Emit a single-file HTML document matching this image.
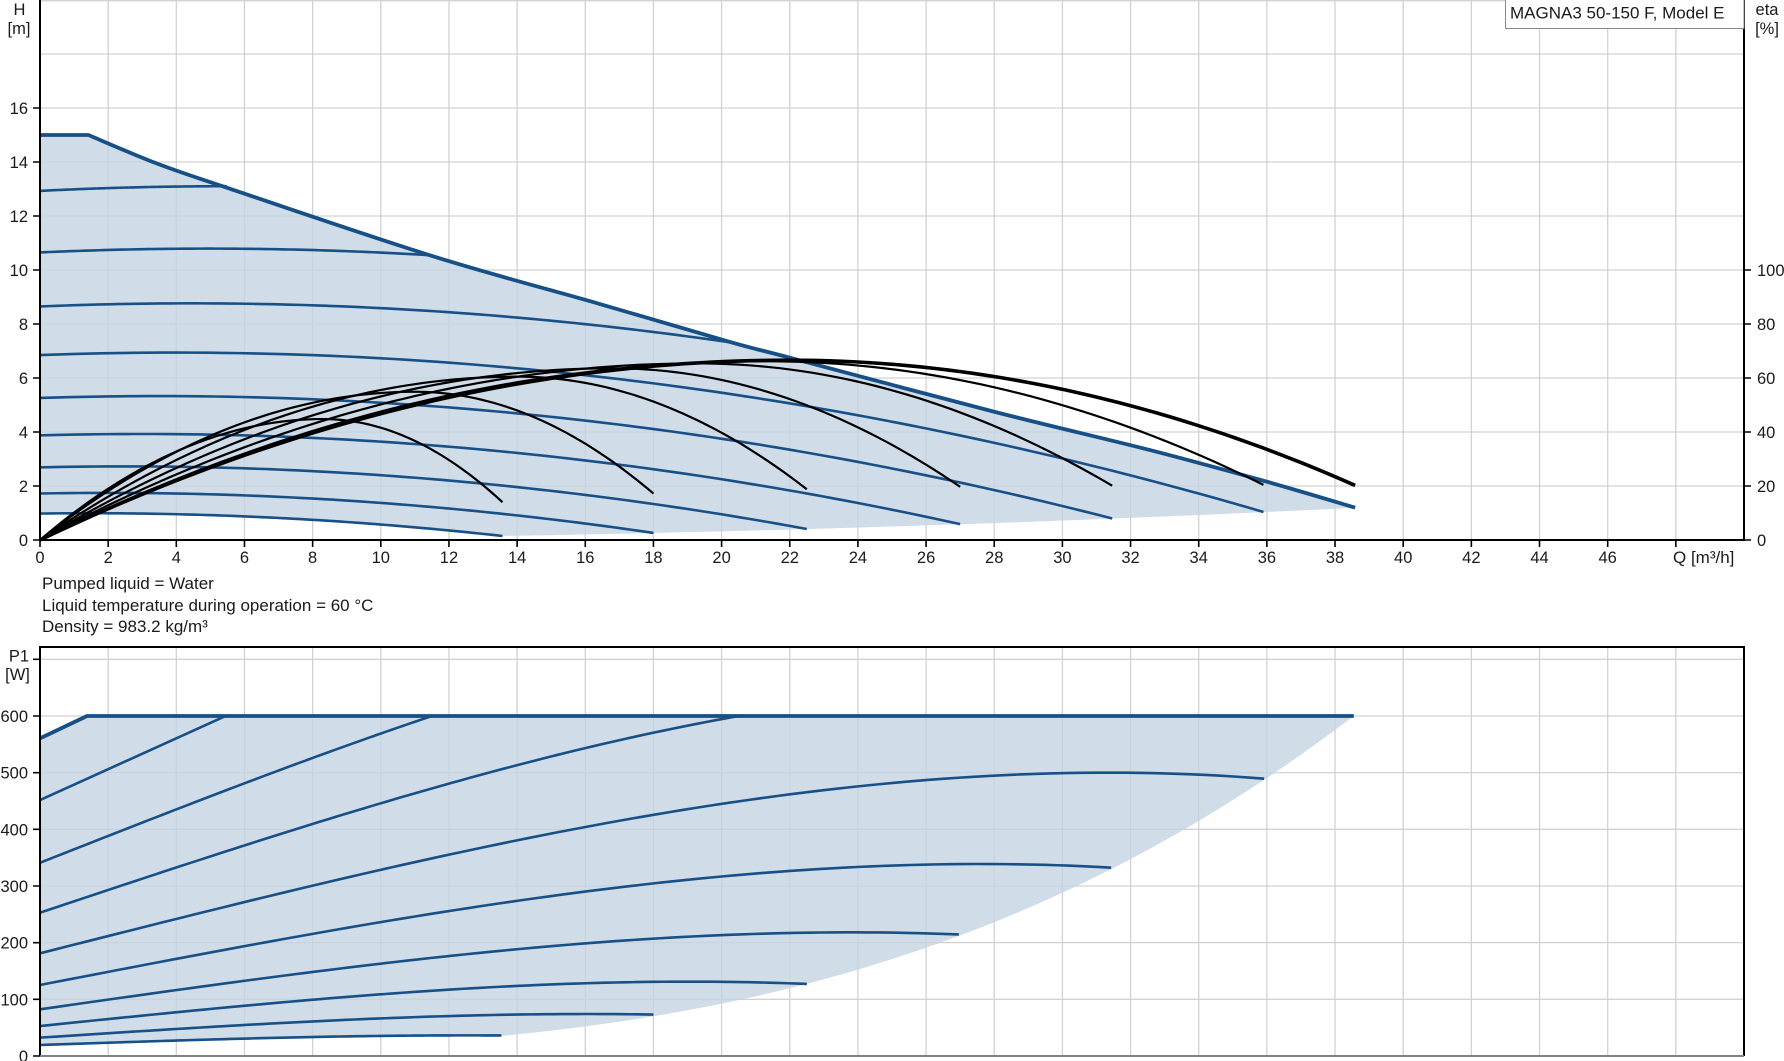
<!DOCTYPE html>
<html><head><meta charset="utf-8"><style>
html,body{margin:0;padding:0;background:#fff;}
svg{display:block;font-family:"Liberation Sans",Arial,sans-serif;}
text{font-size:16.5px;fill:#1a1a1a;}
text.big{font-size:17px;}
</style></head><body>
<svg id="s" width="1784" height="1061" viewBox="0 0 1784 1061" xmlns="http://www.w3.org/2000/svg">
<rect width="1784" height="1061" fill="#fff"/>
<!-- grid top -->
<path stroke="#d2d2d2" stroke-width="1.3" fill="none" d="M108.16,0V540M176.32,0V540M244.48,0V540M312.64,0V540M380.8,0V540M448.96,0V540M517.12,0V540M585.28,0V540M653.44,0V540M721.6,0V540M789.76,0V540M857.92,0V540M926.08,0V540M994.24,0V540M1062.4,0V540M1130.56,0V540M1198.72,0V540M1266.88,0V540M1335.04,0V540M1403.2,0V540M1471.36,0V540M1539.52,0V540M1607.68,0V540M1675.84,0V540M40,486H1744M40,432H1744M40,378H1744M40,324H1744M40,270H1744M40,216H1744M40,162H1744M40,108H1744M40,54H1744M40,0.7H1744"/>
<!-- grid bottom -->
<path stroke="#d2d2d2" stroke-width="1.3" fill="none" d="M108.16,647V1056M176.32,647V1056M244.48,647V1056M312.64,647V1056M380.8,647V1056M448.96,647V1056M517.12,647V1056M585.28,647V1056M653.44,647V1056M721.6,647V1056M789.76,647V1056M857.92,647V1056M926.08,647V1056M994.24,647V1056M1062.4,647V1056M1130.56,647V1056M1198.72,647V1056M1266.88,647V1056M1335.04,647V1056M1403.2,647V1056M1471.36,647V1056M1539.52,647V1056M1607.68,647V1056M1675.84,647V1056M40,999.33H1744M40,942.66H1744M40,886H1744M40,829.33H1744M40,772.66H1744M40,716H1744M40,659.33H1744"/>

<g id="curves"></g>

<!-- axes top -->
<path stroke="#000" stroke-width="2" fill="none" d="M40,0V540H1744V0"/>
<path stroke="#000" stroke-width="1.6" fill="none" d="M33,540H40M33,486H40M33,432H40M33,378H40M33,324H40M33,270H40M33,216H40M33,162H40M33,108H40
M40,540V547M108.16,540V547M176.32,540V547M244.48,540V547M312.64,540V547M380.8,540V547M448.96,540V547M517.12,540V547M585.28,540V547M653.44,540V547M721.6,540V547M789.76,540V547M857.92,540V547M926.08,540V547M994.24,540V547M1062.4,540V547M1130.56,540V547M1198.72,540V547M1266.88,540V547M1335.04,540V547M1403.2,540V547M1471.36,540V547M1539.52,540V547M1607.68,540V547M1675.84,540V547
M1744,540H1751M1744,486H1751M1744,432H1751M1744,378H1751M1744,324H1751M1744,270H1751"/>
<!-- axes bottom -->
<path stroke="#000" stroke-width="2" fill="none" d="M40,1056V647H1744V1056"/>
<path stroke="#808080" stroke-width="2" fill="none" d="M40,1056H1744"/>
<path stroke="#000" stroke-width="1.6" fill="none" d="M33,1056H40M33,999.33H40M33,942.66H40M33,886H40M33,829.33H40M33,772.66H40M33,716H40M33,659.33H40"/>

<!-- title box -->
<rect x="1505.5" y="-1" width="238.5" height="29.5" fill="#fff" stroke="#888" stroke-width="1"/>
<text class="big" x="1510" y="18.5">MAGNA3 50-150 F, Model E</text>

<!-- axis titles -->
<text x="19.5" y="15" text-anchor="middle">H</text>
<text x="19" y="34" text-anchor="middle">[m]</text>
<text x="1767" y="15" text-anchor="middle">eta</text>
<text x="1767" y="34" text-anchor="middle">[%]</text>
<text x="19" y="661.5" text-anchor="middle">P1</text>
<text x="17.5" y="680" text-anchor="middle">[W]</text>

<!-- left labels top -->
<g text-anchor="end">
<text x="28" y="546">0</text>
<text x="28" y="492">2</text>
<text x="28" y="438">4</text>
<text x="28" y="384">6</text>
<text x="28" y="330">8</text>
<text x="28" y="276">10</text>
<text x="28" y="222">12</text>
<text x="28" y="168">14</text>
<text x="28" y="114">16</text>
<text x="28" y="1062">0</text>
<text x="28" y="1005.3">100</text>
<text x="28" y="948.7">200</text>
<text x="28" y="892">300</text>
<text x="28" y="835.3">400</text>
<text x="28" y="778.7">500</text>
<text x="28" y="722">600</text>
</g>
<!-- right labels -->
<g text-anchor="start">
<text x="1757" y="546">0</text>
<text x="1757" y="492">20</text>
<text x="1757" y="438">40</text>
<text x="1757" y="384">60</text>
<text x="1757" y="330">80</text>
<text x="1757" y="276">100</text>
</g>
<!-- x labels -->
<g text-anchor="middle">
<text x="40" y="563">0</text>
<text x="108.16" y="563">2</text>
<text x="176.32" y="563">4</text>
<text x="244.48" y="563">6</text>
<text x="312.64" y="563">8</text>
<text x="380.8" y="563">10</text>
<text x="448.96" y="563">12</text>
<text x="517.12" y="563">14</text>
<text x="585.28" y="563">16</text>
<text x="653.44" y="563">18</text>
<text x="721.6" y="563">20</text>
<text x="789.76" y="563">22</text>
<text x="857.92" y="563">24</text>
<text x="926.08" y="563">26</text>
<text x="994.24" y="563">28</text>
<text x="1062.4" y="563">30</text>
<text x="1130.56" y="563">32</text>
<text x="1198.72" y="563">34</text>
<text x="1266.88" y="563">36</text>
<text x="1335.04" y="563">38</text>
<text x="1403.2" y="563">40</text>
<text x="1471.36" y="563">42</text>
<text x="1539.52" y="563">44</text>
<text x="1607.68" y="563">46</text>
</g>
<text class="big" x="1673" y="563">Q [m³/h]</text>

<text class="big" x="42" y="589">Pumped liquid = Water</text>
<text class="big" x="42" y="611">Liquid temperature during operation = 60 °C</text>
<text class="big" x="42" y="632">Density = 983.2 kg/m³</text>
</svg>
<script>
(function(){
var NS="http://www.w3.org/2000/svg";
var g=document.getElementById("curves");
function X(q){return 40+q*34.08;}
function YH(h){return 540-h*27;}
function YP(w){return 1056-w*0.5667;}
function f2(v){return Math.round(v*100)/100;}
function samp(f,q0,q1,Y,n){n=n||80;var a=[];for(var i=0;i<=n;i++){var q=q0+(q1-q0)*i/n;a.push([f2(X(q)),f2(Y(f(q)))]);}return a;}
function pl(a,move){var d=(move===false?"L":"M")+a[0][0]+","+a[0][1];for(var i=1;i<a.length;i++)d+="L"+a[i][0]+","+a[i][1];return d;}
function cr(pts){var d="";for(var i=0;i<pts.length-1;i++){var p0=pts[i-1]||pts[i],p1=pts[i],p2=pts[i+1],p3=pts[i+2]||p2;
var c1=[f2(p1[0]+(p2[0]-p0[0])/6),f2(p1[1]+(p2[1]-p0[1])/6)],c2=[f2(p2[0]-(p3[0]-p1[0])/6),f2(p2[1]-(p3[1]-p1[1])/6)];
d+="C"+c1[0]+","+c1[1]+" "+c2[0]+","+c2[1]+" "+f2(p2[0])+","+f2(p2[1]);}return d;}
function add(d,stroke,w,fill,op){var p=document.createElementNS(NS,"path");p.setAttribute("d",d);p.setAttribute("stroke",stroke||"none");
p.setAttribute("stroke-width",w||0);p.setAttribute("fill",fill||"none");if(op)p.setAttribute("fill-opacity",op);p.setAttribute("stroke-linejoin","round");g.appendChild(p);}
var BLUE="#174f87";
// head curves
function hc(n){return function(q){return 6.85*n*n+0.046*n*q-0.00579*q*q;};}
var heads=[[1.3739,5.48],[1.2469,11.5],[1.1237,20.23],[1,35.9],[0.8763,31.46],[0.7521,27],[0.6267,22.5],[0.5014,18],[0.378,13.57]];
var maxPts=[[1.42,15],[3.42,13.95],[5.48,13.05],[11.5,10.52],[16.43,8.74],[20.23,7.34],[22.07,6.73],[28,4.75],[32.57,3.33],[35.94,2.18],[38.59,1.2]].map(function(p){return [X(p[0]),YH(p[1])];});
var maxD="M"+X(0)+","+YH(15)+"L"+maxPts[0][0]+","+maxPts[0][1]+cr(maxPts);
// fill head
var bnd=samp(function(q){return 0.0008*q*q;},38.59,13.57,YH,40);
var c9=samp(hc(0.378),13.57,0,YH,40);
add(maxD+pl(bnd,false)+pl(c9,false)+"Z","none",0,"#c4d5e4","0.8");
// P chart fill
function pc(P0,A,Qp){return function(q){var x=q/Qp;return P0+A*(1.5*x-0.5*x*x*x);};}
var pcs=[[341,473.6,30,11.5],[252.9,401.0,30,20.6],[181.2,318.8,31.35,35.92],[125.3,213.5,27.6,31.43],[82.4,135.8,23.8,26.96],[52.9,78.3,19.06,22.5],[32.4,41.7,16.05,18],[19.4,17,12.5,13.54]];
var pb=samp(function(q){return 0.0103*q*q*q+10;},38.55,13.54,YP,50);
var pc9=samp(pc(19.4,17,12.5),13.54,0,YP,40);
var pmax="M"+X(0)+","+f2(YP(560.5))+"L"+f2(X(1.38))+","+f2(YP(600))+"L"+f2(X(38.55))+","+f2(YP(600));
add(pmax+pl(pb,false)+pl(pc9,false)+"Z","none",0,"#c4d5e4","0.8");
// head blue curves
heads.forEach(function(h){add(pl(samp(hc(h[0]),0,h[1],YH,80)),BLUE,2.6);});
add(maxD,BLUE,3.8);
// P blue curves
add("M"+X(0)+","+f2(YP(451.7))+"L"+f2(X(5.45))+","+f2(YP(600)),BLUE,2.6);
pcs.forEach(function(c){add(pl(samp(pc(c[0],c[1],c[2]),0,c[3],YP,80)),BLUE,2.6);});
add(pmax,BLUE,3.8);
// efficiency curves: [Qpk, peak, Qend, Hend, width]
function eg(qp,s,qe,he){var xe=qe/qp;var c=(2*xe-xe*xe-he/s)/((xe-1)*(xe-1));
 return function(q){var x=q/qp;var e=Math.max(0,x-1);return s*(2*x-x*x-c*e*e);};}
var effs=[[8.3,4.48,13.57,1.40,2.2],[11,5.49,18,1.72,2.2],[14,6.05,22.5,1.88,2.2],[16.8,6.36,27,1.97,2.2],[19.3,6.54,31.46,2.01,2.2],[21.3,6.62,35.9,2.04,2.2],[22,6.66,38.59,2.02,3.6]];
effs.forEach(function(e){add(pl(samp(eg(e[0],e[1],e[2],e[3]),0,e[2],YH,100)),"#000",e[4]);});
})();
</script>
</body></html>
